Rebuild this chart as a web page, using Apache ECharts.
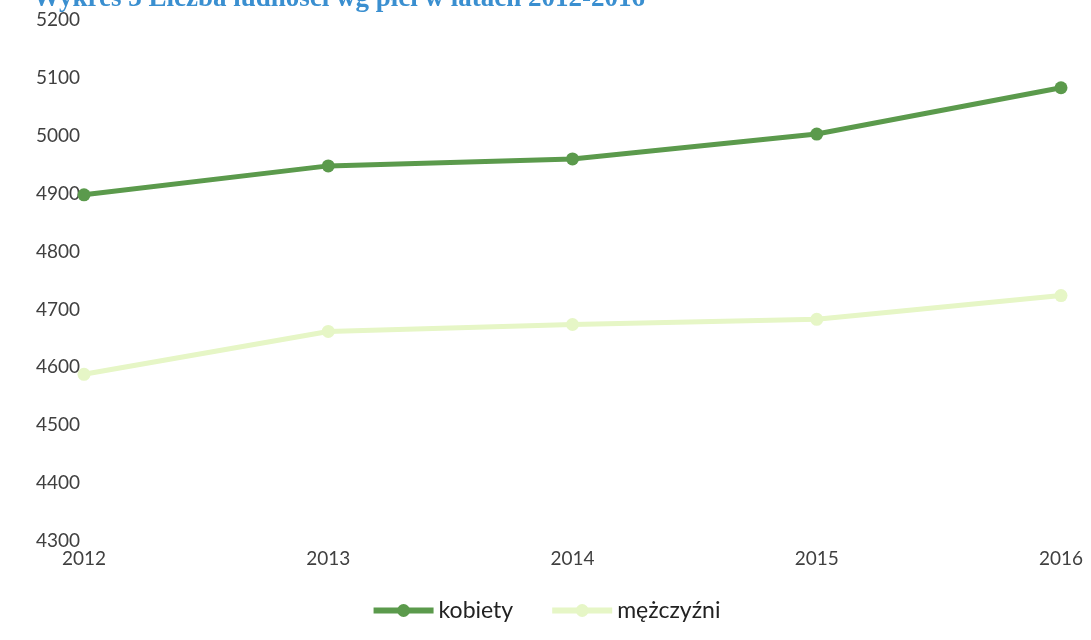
<!DOCTYPE html>
<html>
<head>
<meta charset="utf-8">
<style>
  html, body { margin: 0; padding: 0; background: #ffffff; }
  #chart { width: 1091px; height: 640px; }
</style>
<script src="https://cdn.jsdelivr.net/npm/echarts@6/dist/echarts.min.js"></script>
</head>
<body>
<div id="chart"></div>
<script>
// Population by sex, 2012-2016
const years = ['2012', '2013', '2014', '2015', '2016'];
const kobiety = [4898, 4948, 4960, 5003, 5083];
const mezczyzni = [4588, 4662, 4674, 4683, 4724];
const seriesNames = ['kobiety', 'mężczyźni'];
const titleText = 'Wykres 3 Liczba ludności wg płci w latach 2012-2016';

const chart = echarts.init(document.getElementById('chart'), null, { renderer: 'canvas' });

const font = 'Lato, "Open Sans", sans-serif';
const colors = ['#5b9a4c', '#e6f6c6'];

chart.setOption({
  animation: false,
  backgroundColor: '#ffffff',
  title: {
    text: titleText,
    left: 28,
    top: -19,
    textStyle: {
      fontFamily: '"Liberation Serif", "DejaVu Serif", serif',
      fontWeight: 'bold',
      fontSize: 27,
      color: '#3a8fd0'
    }
  },
  grid: { left: 84, right: 30, top: 20, bottom: 99 },
  legend: {
    bottom: 13,
    left: 'center',
    itemWidth: 60,
    itemHeight: 16,
    itemGap: 36,
    textStyle: { fontFamily: font, fontSize: 23, color: '#222222' },
    data: seriesNames.map((n, i) => ({
      name: n,
      itemStyle: { color: colors[i] },
      lineStyle: { width: 6, color: colors[i] }
    }))
  },
  xAxis: {
    type: 'category',
    data: years,
    boundaryGap: false,
    axisLine: { show: false },
    axisTick: { show: false },
    axisLabel: { fontFamily: font, fontSize: 19, color: '#404040', margin: 8 }
  },
  yAxis: {
    type: 'value',
    min: 4300,
    max: 5200,
    interval: 100,
    axisLine: { show: false },
    axisTick: { show: false },
    splitLine: { show: false },
    axisLabel: {
      fontFamily: font, fontSize: 19, color: '#404040', margin: 4,
      formatter: v => String(v)
    }
  },
  series: [
    {
      name: seriesNames[0],
      type: 'line',
      data: kobiety,
      symbol: 'circle',
      symbolSize: 13,
      lineStyle: { width: 5, color: colors[0] },
      itemStyle: { color: colors[0] }
    },
    {
      name: seriesNames[1],
      type: 'line',
      data: mezczyzni,
      symbol: 'circle',
      symbolSize: 13,
      lineStyle: { width: 5, color: colors[1] },
      itemStyle: { color: colors[1] }
    }
  ]
});
</script>
</body>
</html>
